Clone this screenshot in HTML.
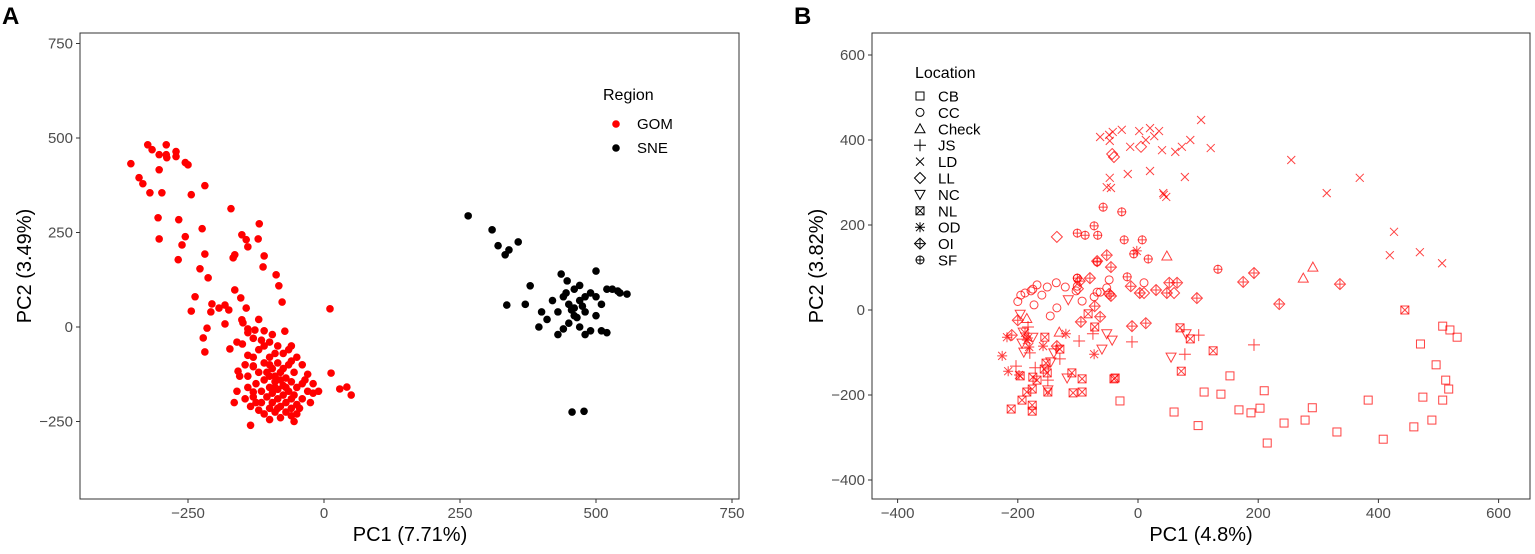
<!DOCTYPE html>
<html><head><meta charset="utf-8"><style>
body{margin:0;background:#fff;font-family:"Liberation Sans",sans-serif}
svg text{font-family:"Liberation Sans",sans-serif}
</style></head><body>
<svg id="s" width="1535" height="549" xmlns="http://www.w3.org/2000/svg">
<rect width="1535" height="549" fill="#fff"/>
<text x="2" y="24" font-size="24" font-weight="bold">A</text>
<text x="794" y="24" font-size="24" font-weight="bold">B</text>
<g id="pa"></g>
<g id="pb"></g>
</svg>
<script>
const gomPts=[[-324,482],[-290,482],[-316,469],[-303,456],[-290,456],[-272,464],[-289,448],[-272,451],[-355,432],[-255,435],[-250,429],[-303,416],[-340,395],[-333,379],[-320,355],[-298,355],[-244,350],[-219,374],[-171,313],[-305,289],[-267,284],[-224,260],[-119,273],[-303,233],[-255,239],[-261,217],[-151,244],[-143,231],[-140,212],[-121,233],[-268,178],[-219,193],[-164,191],[-167,183],[-110,188],[-228,154],[-213,130],[-112,159],[-88,138],[-83,109],[-77,66],[11,48],[-164,98],[-237,80],[-244,42],[-206,61],[-182,58],[-208,40],[-153,77],[-143,50],[-193,50],[-175,45],[-215,-3],[-151,19],[-182,8],[-149,11],[-222,-29],[-219,-66],[-173,-58],[-127,-8],[-72,-11],[13,-122],[29,-164],[42,-159],[50,-180],[-130,-172],[-158,-117],[-130,-103],
[-120,20],[-140,-5],[-110,-10],[-95,-20],[-130,-30],[-100,-40],[-150,-45],[-85,-50],[-60,-50],[-120,-60],[-75,-70],[-140,-75],[-100,-80],[-50,-80],[-110,-95],[-85,-95],[-65,-100],[-40,-100],[-130,-105],[-95,-110],[-120,-120],[-80,-120],[-55,-120],[-30,-125],[-140,-130],[-100,-130],[-70,-135],[-110,-140],[-90,-145],[-60,-145],[-40,-150],[-125,-150],[-75,-155],[-100,-160],[-50,-160],[-85,-165],[-65,-170],[-115,-170],[-30,-170],[-95,-175],[-75,-180],[-55,-180],[-130,-185],[-105,-185],[-85,-190],[-60,-190],[-40,-190],[-20,-175],[-115,-200],[-95,-200],[-70,-200],[-50,-205],[-135,-210],[-80,-210],[-60,-215],[-100,-215],[-120,-220],[-90,-225],[-70,-225],[-50,-230],[-110,-230],[-80,-240],[-60,-235],[-90,-160],[-70,-160],[-80,-140],[-100,-100],[-60,-90],[-90,-70],[-110,-50],[-130,-80],[-145,-100],[-155,-130],[-160,-170],[-140,-160],[-125,-200],[-100,-245],[-135,-260],[-20,-150],[-10,-170],[-25,-200],[-45,-215],[-35,-140],[-115,-35],[-140,-15],[-160,-40],[-90,-130],[-75,-110],[-105,-120],[-65,-60],[-85,-215],[-55,-250],[-145,-190],[-165,-200]];
const snePts=[[265,294],[309,257],[320,215],[340,204],[357,225],[333,191],[379,109],[436,140],[447,122],[500,148],[544,90],[557,87],[336,58],[456,-225],[478,-223],[420,70],[440,80],[450,60],[460,50],[470,70],[480,40],[500,30],[510,60],[520,100],[530,100],[540,95],[460,100],[470,110],[490,90],[430,40],[410,20],[400,40],[450,10],[470,0],[490,-10],[510,-10],[520,-15],[440,-5],[430,-20],[460,30],[500,80],[480,80],[455,45],[465,25],[445,90],[475,55],[395,0],[370,60],[480,-20]];
const aXTicks=[-250,0,250,500,750];
const aYTicks=[-250,0,250,500,750];
const bXTicks=[-400,-200,0,200,400,600];
const bYTicks=[-400,-200,0,200,400,600];
const locNames=["CB","CC","Check","JS","LD","LL","NC","NL","OD","OI","SF"];
const locCB=[[-30,-214],[110,-193],[138,-198],[153,-155],[168,-235],[188,-242],[203,-231],[215,-313],[243,-266],[278,-259],[331,-287],[408,-304],[383,-212],[459,-275],[474,-205],[489,-259],[496,-129],[507,-212],[512,-165],[517,-186],[470,-80],[507,-38],[519,-47],[531,-64],[100,-272],[60,-240],[210,-190],[290,-230]];
const locCC=[[-188,40],[-178,45],[-175,49],[-168,59],[-151,54],[-136,64],[-121,54],[-101,75],[-101,56],[-103,45],[-93,21],[-73,31],[-68,42],[-63,42],[-52,52],[-48,71],[-173,12],[-146,-14],[-135,5],[10,64],[-200,20],[-195,35],[-160,35]];
const locCheck=[[48,127],[291,101],[275,75],[-131,-52],[-185,-20]];
const locJS=[[-183,-40],[-75,-56],[-98,-73],[-10,-75],[101,-59],[78,-104],[-203,-132],[-171,-136],[-150,-165],[-130,-115],[-180,-101],[193,-82]];
const locLD=[[-63,407],[-48,412],[-42,419],[-27,424],[-47,398],[2,421],[20,428],[27,409],[13,400],[35,421],[-13,384],[40,376],[105,447],[62,372],[73,384],[87,400],[121,381],[-17,320],[-47,311],[-52,289],[20,327],[42,275],[47,266],[78,313],[255,353],[314,275],[369,311],[426,184],[419,129],[469,136],[506,110],[-45,287],[43,271]];
const locLL=[[-135,172],[-43,367],[-40,360],[5,384],[10,40],[-100,50],[60,40]];
const locNC=[[-196,-10],[-193,-78],[-190,-99],[-116,24],[-52,-56],[-43,-71],[-60,-92],[55,-111],[80,-56],[-145,-122],[-140,-101],[-118,-160],[-150,-188],[-175,-64],[-191,-52]];
const locNL=[[-83,-9],[-72,-40],[-155,-64],[-130,-92],[-153,-125],[-156,-139],[-151,-148],[-175,-158],[-168,-165],[-110,-148],[-93,-162],[-40,-162],[-93,-193],[-108,-195],[-150,-193],[-176,-186],[-185,-193],[-193,-212],[-176,-224],[-176,-238],[-211,-233],[-196,-155],[70,-42],[87,-68],[72,-144],[125,-96],[444,0],[-38,-160]];
const locOD=[[-2,139],[-218,-64],[-188,-54],[-183,-66],[-181,-87],[-158,-85],[-120,-56],[-73,-104],[-226,-108],[-216,-144],[-198,-153],[-185,-71]];
const locOI=[[-52,129],[-68,115],[-45,101],[-80,75],[-97,68],[-48,38],[-45,33],[-72,9],[-63,-16],[-95,-28],[-10,-38],[13,-31],[-200,-24],[-210,-59],[-135,-85],[-12,56],[3,40],[30,47],[48,40],[52,64],[65,64],[98,28],[175,66],[193,87],[235,14],[336,61]];
const locSF=[[-58,242],[-27,231],[-73,198],[-101,181],[-88,176],[-67,176],[-23,165],[7,165],[-7,132],[17,120],[133,96],[-18,78],[-101,75],[-68,113]];

const NS="http://www.w3.org/2000/svg";
function mk(p,tag,at){const e=document.createElementNS(NS,tag);for(const k in at)e.setAttribute(k,at[k]);p.appendChild(e);return e;}
function txt(p,x,y,s,at){const e=mk(p,"text",Object.assign({x:x,y:y},at));e.textContent=s;return e;}

// Panel A
const A={l:80,t:33,r:739,b:499};
const axA=v=>324+v*0.544, ayA=v=>327-v*0.378;
const pa=document.getElementById('pa');
const fa=mk(pa,"rect",{x:A.l,y:A.t,width:A.r-A.l,height:A.b-A.t,fill:"#fff",stroke:"#333","stroke-width":1});


aXTicks.forEach(v=>{const x=axA(v);mk(pa,"line",{x1:x,x2:x,y1:A.b,y2:A.b+4,stroke:"#333"});
 const t=txt(pa,x,A.b+19,v<0?"\u2212"+(-v):String(v),{"font-size":15,fill:"#4d4d4d","text-anchor":"middle"});
 });
aYTicks.forEach(v=>{const y=ayA(v);mk(pa,"line",{x1:A.l-4,x2:A.l,y1:y,y2:y,stroke:"#333"});
 const t=txt(pa,A.l-7,y+5,v<0?"\u2212"+(-v):String(v),{"font-size":15,fill:"#4d4d4d","text-anchor":"end"});
 });
let tt=txt(pa,410,541,"PC1 (7.71%)",{"font-size":20,"text-anchor":"middle"});

tt=txt(pa,0,0,"PC2 (3.49%)",{"font-size":20,"text-anchor":"middle",transform:"translate(31,266) rotate(-90)"});

gomPts.forEach(p=>{const c=mk(pa,"circle",{cx:axA(p[0]),cy:ayA(p[1]),r:3.8,fill:"#ff0000"});
 });
snePts.forEach(p=>{const c=mk(pa,"circle",{cx:axA(p[0]),cy:ayA(p[1]),r:3.8,fill:"#000"});
 });
tt=txt(pa,603,100,"Region",{"font-size":16});

[["GOM","#ff0000",124],["SNE","#000",148]].forEach(e=>{
 const c=mk(pa,"circle",{cx:616,cy:e[2],r:3.8,fill:e[1]});
 
 const t=txt(pa,637,e[2]+5,e[0],{"font-size":15});
 });

// Panel B
const B={l:872,t:33,r:1530,b:499};
const axB=v=>1138+v*0.601, ayB=v=>310-v*0.425;
const pb=document.getElementById('pb');
const fb=mk(pb,"rect",{x:B.l,y:B.t,width:B.r-B.l,height:B.b-B.t,fill:"#fff",stroke:"#333","stroke-width":1});


bXTicks.forEach(v=>{const x=axB(v);mk(pb,"line",{x1:x,x2:x,y1:B.b,y2:B.b+4,stroke:"#333"});
 const t=txt(pb,x,B.b+19,v<0?"\u2212"+(-v):String(v),{"font-size":15,fill:"#4d4d4d","text-anchor":"middle"});
 });
bYTicks.forEach(v=>{const y=ayB(v);mk(pb,"line",{x1:B.l-4,x2:B.l,y1:y,y2:y,stroke:"#333"});
 const t=txt(pb,B.l-7,y+5,v<0?"\u2212"+(-v):String(v),{"font-size":15,fill:"#4d4d4d","text-anchor":"end"});
 });
tt=txt(pb,1201,541,"PC1 (4.8%)",{"font-size":20,"text-anchor":"middle"});

tt=txt(pb,0,0,"PC2 (3.82%)",{"font-size":20,"text-anchor":"middle",transform:"translate(823,266) rotate(-90)"});


function sym(p,kind,x,y,col){
 const g=mk(p,"g",{fill:"none",stroke:col,"stroke-width":1});
 const s=4;
 if(kind==="CB"||kind==="NL"){mk(g,"rect",{x:x-s,y:y-s,width:2*s,height:2*s});}
 if(kind==="NL"){mk(g,"path",{d:`M${x-s} ${y-s}L${x+s} ${y+s}M${x+s} ${y-s}L${x-s} ${y+s}`});}
 if(kind==="CC"||kind==="SF"){mk(g,"circle",{cx:x,cy:y,r:s});}
 if(kind==="SF"||kind==="OI"){mk(g,"path",{d:`M${x-s-0.5} ${y}H${x+s+0.5}M${x} ${y-s-0.5}V${y+s+0.5}`});}
 if(kind==="Check"){mk(g,"path",{d:`M${x} ${y-5}L${x+5} ${y+4}L${x-5} ${y+4}Z`});}
 if(kind==="NC"){mk(g,"path",{d:`M${x} ${y+5}L${x+5} ${y-4}L${x-5} ${y-4}Z`});}
 if(kind==="JS"){mk(g,"path",{d:`M${x-6} ${y}H${x+6}M${x} ${y-6}V${y+6}`});}
 if(kind==="LD"){mk(g,"path",{d:`M${x-4} ${y-4}L${x+4} ${y+4}M${x+4} ${y-4}L${x-4} ${y+4}`});}
 if(kind==="LL"||kind==="OI"){mk(g,"path",{d:`M${x} ${y-5.5}L${x+5.5} ${y}L${x} ${y+5.5}L${x-5.5} ${y}Z`});}
 if(kind==="OD"){mk(g,"path",{d:`M${x-5} ${y}H${x+5}M${x} ${y-5}V${y+5}M${x-4} ${y-4}L${x+4} ${y+4}M${x+4} ${y-4}L${x-4} ${y+4}`});}
 return g;
}
const locData=[locCB,locCC,locCheck,locJS,locLD,locLL,locNC,locNL,locOD,locOI,locSF];
locData.forEach((arr,i)=>{arr.forEach(p=>{
 const g=sym(pb,locNames[i],axB(p[0]),ayB(p[1]),"rgba(255,0,0,0.75)");
 
 });});
tt=txt(pb,915,78,"Location",{"font-size":16});

locNames.forEach((n,i)=>{const y=96+i*16.4;
 const g=sym(pb,n,920,y,"#000");
 
 
 const t=txt(pb,938,y+5.5,n,{"font-size":15});
 
 });
</script>
</body></html>
